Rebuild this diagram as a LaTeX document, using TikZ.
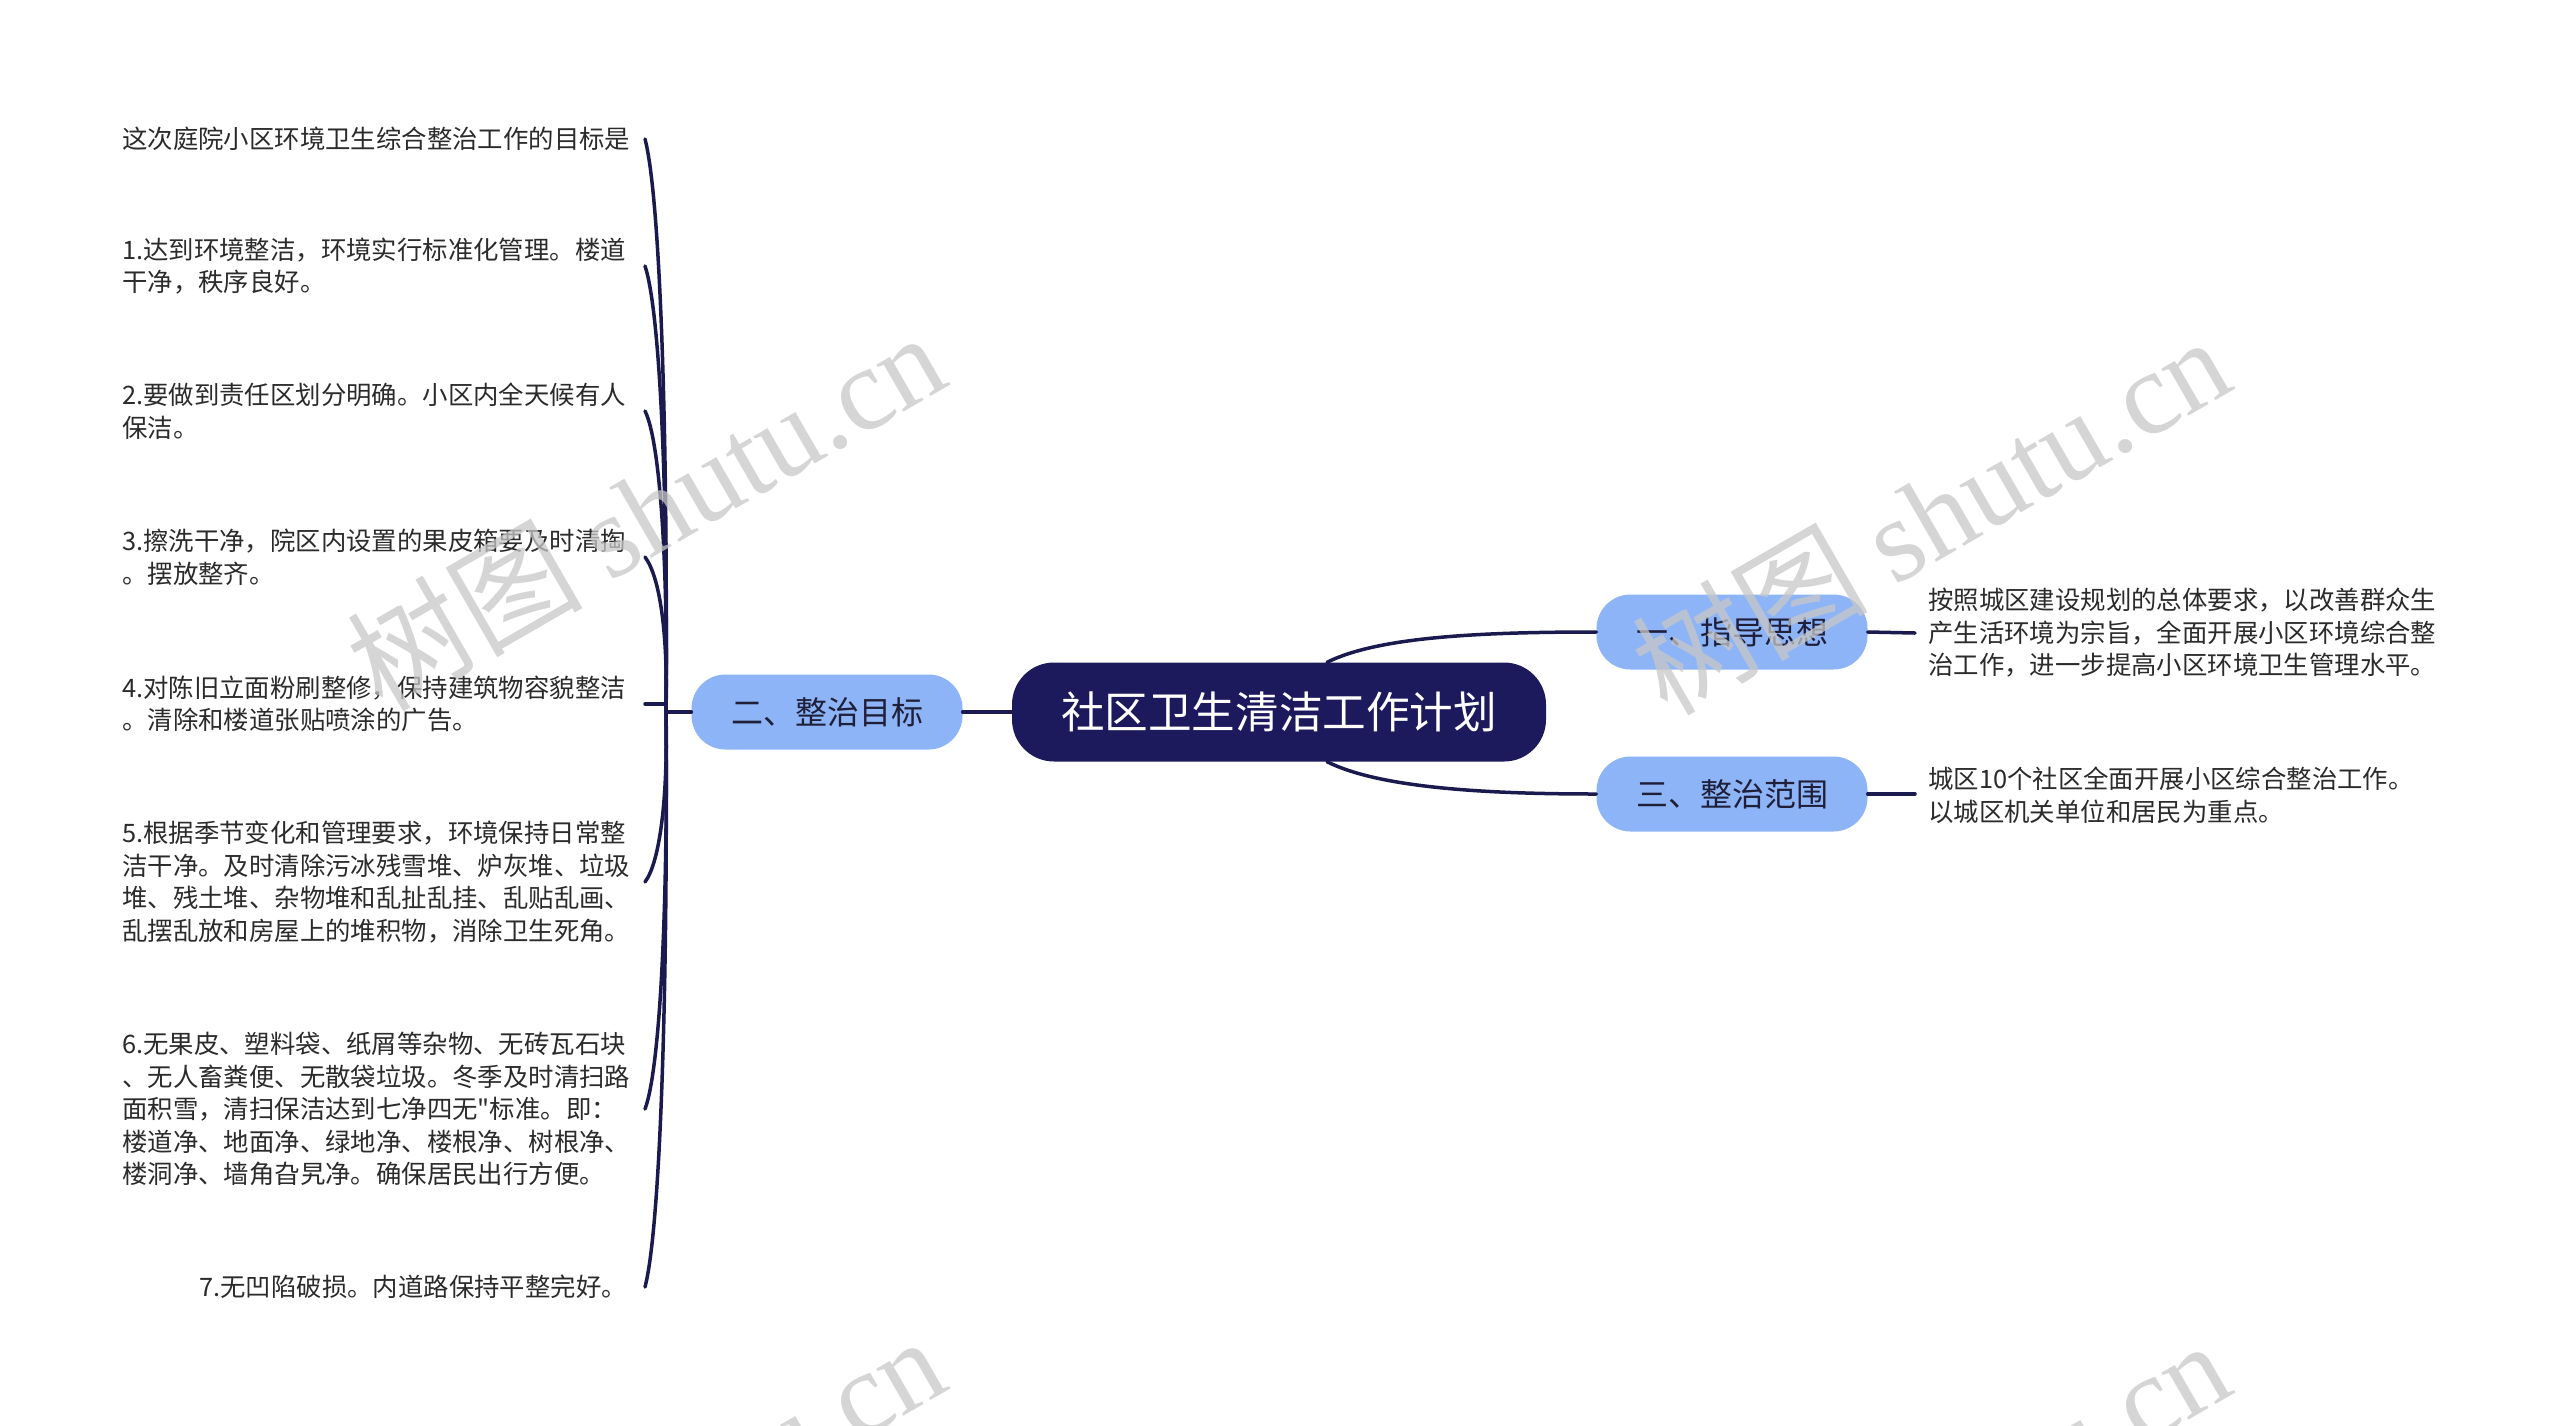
\documentclass[tikz,border=0pt]{standalone}
\usepackage{fontspec}
\setmainfont{Noto Sans CJK SC}
\newfontfamily\wmserif{Liberation Serif}
\newfontfamily\wmcjk{Noto Sans CJK SC}
\newcommand{\straightquote}{\XeTeXglyph\XeTeXcharglyph"22\relax}
\definecolor{rootc}{HTML}{1C1A5C}
\definecolor{subc}{HTML}{8DB4F6}
\definecolor{linec}{HTML}{1A1A4E}
\definecolor{txtc}{HTML}{2B2B2B}
\definecolor{subtxt}{HTML}{1F1F3A}
\tikzset{
  rootnode/.style={fill=rootc, rounded corners=42, minimum width=534, minimum height=99, text=white, inner sep=0, font=\fontsize{43.6}{50}\selectfont},
  subnode/.style={fill=subc, rounded corners=34, minimum width=271, minimum height=75, text=subtxt, inner sep=0, font=\fontsize{32}{38}\selectfont},
  leafnode/.style={text=txtc, align=left, inner sep=0, font=\fontsize{25.4}{32.6}\selectfont},
  conn/.style={draw=linec, line width=3.5, line cap=round},
  wmark/.style={rotate=30, text=black!22, opacity=0.75, inner sep=0},
}
\begin{document}
\begin{tikzpicture}[x=1pt, y=-1pt]
\useasboundingbox (0,0) rectangle (2560,1425);
\fill[white] (0,0) rectangle (2560,1425);

% main nodes
\node[rootnode] (root) at (1279,712) {社区卫生清洁工作计划};
\node[subnode] (s2) at (827,712) {二、整治目标};
\node[subnode] (s1) at (1732,632) {一、指导思想};
\node[subnode] (s3) at (1732,794) {三、整治范围};

% right texts
\node[leafnode, anchor=west] (t1) at (1928,633) {按照城区建设规划的总体要求，以改善群众生\\产生活环境为宗旨，全面开展小区环境综合整\\治工作，进一步提高小区环境卫生管理水平。};
\node[leafnode, anchor=west] (t3) at (1928,795) {城区10个社区全面开展小区综合整治工作。\\以城区机关单位和居民为重点。};

% left texts
\node[leafnode, anchor=west] (l0) at (122,139) {这次庭院小区环境卫生综合整治工作的目标是};
\node[leafnode, anchor=west] (l1) at (122,266) {1.达到环境整洁，环境实行标准化管理。楼道\\干净，秩序良好。};
\node[leafnode, anchor=west] (l2) at (122,411) {2.要做到责任区划分明确。小区内全天候有人\\保洁。};
\node[leafnode, anchor=west] (l3) at (122,557) {3.擦洗干净，院区内设置的果皮箱要及时清掏\\。摆放整齐。};
\node[leafnode, anchor=west] (l4) at (122,704) {4.对陈旧立面粉刷整修，保持建筑物容貌整洁\\。清除和楼道张贴喷涂的广告。};
\node[leafnode, anchor=west] (l5) at (122,882) {5.根据季节变化和管理要求，环境保持日常整\\洁干净。及时清除污冰残雪堆、炉灰堆、垃圾\\堆、残土堆、杂物堆和乱扯乱挂、乱贴乱画、\\乱摆乱放和房屋上的堆积物，消除卫生死角。};
\node[leafnode, anchor=west] (l6) at (122,1109) {6.无果皮、塑料袋、纸屑等杂物、无砖瓦石块\\、无人畜粪便、无散袋垃圾。冬季及时清扫路\\面积雪，清扫保洁达到七净四无\straightquote 标准。即：\\楼道净、地面净、绿地净、楼根净、树根净、\\楼洞净、墙角旮旯净。确保居民出行方便。};
\node[leafnode, anchor=east] (l7) at (627,1287) {7.无凹陷破损。内道路保持平整完好。};

\coordinate (hub) at (666,712);
\coordinate (lend) at (645,712);

% connectors
\draw[conn] (root.west) -- (s2.east);
\draw[conn] (s2.west) -- (hub);
\draw[conn] ([xshift=48]root.north) .. controls +(50,-25) and +(-120,0) .. (s1.west);
\draw[conn] ([xshift=48]root.south) .. controls +(50,25) and +(-120,0) .. (s3.west);
\draw[conn] (s1.east) -- ([xshift=-13]t1.west);
\draw[conn] (s3.east) -- ([xshift=-13]t3.west |- s3.east);

\draw[conn] (hub) .. controls +(2,-287) and +(15,57) .. (lend |- l0.east);
\draw[conn] (hub) .. controls +(2,-223) and +(15,45) .. (lend |- l1.east);
\draw[conn] (hub) .. controls +(2,-150) and +(15,30) .. (lend |- l2.east);
\draw[conn] (hub) .. controls +(2,-78) and +(15,20) .. (lend |- l3.east);
\draw[conn] (hub |- l4.east) -- (lend |- l4.east);
\draw[conn] (hub) .. controls +(2,85) and +(15,-20) .. (lend |- l5.east);
\draw[conn] (hub) .. controls +(2,198) and +(15,-40) .. (lend |- l6.east);
\draw[conn] (hub) .. controls +(2,287) and +(15,-57) .. (lend |- l7.east);

% watermarks
\begin{scope}
\clip (0,0) rectangle (2560,1425);
\node[wmark] (wm1) at (645,510) {\fontsize{118}{120}\selectfont\wmcjk 树图 \wmserif shutu.cn};
\node[wmark] (wm2) at (1930,514) {\fontsize{118}{120}\selectfont\wmcjk 树图 \wmserif shutu.cn};
\node[wmark] (wm3) at (645,1514) {\fontsize{118}{120}\selectfont\wmcjk 树图 \wmserif shutu.cn};
\node[wmark] (wm4) at (1930,1518) {\fontsize{118}{120}\selectfont\wmcjk 树图 \wmserif shutu.cn};
\end{scope}
\end{tikzpicture}
\end{document}
